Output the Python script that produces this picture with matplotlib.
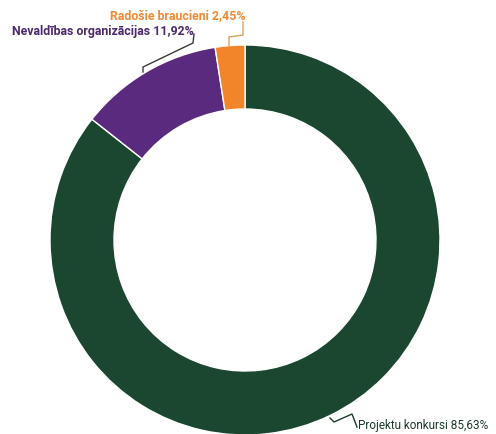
import matplotlib
matplotlib.use("Agg")
import matplotlib.pyplot as plt

# data (clockwise from 12 o'clock)
labels = ["Projektu konkursi", "Nevaldības organizācijas", "Radošie braucieni"]
shares = [85.63, 11.92, 2.45]
colors = ["#1b4730", "#5a2a7e", "#f2842a"]
text_colors = ["#1c3a2a", "#4e2a6e", "#f08a35"]

W, H = 496, 434
fig = plt.figure(figsize=(W / 100, H / 100), dpi=100)
ax = fig.add_axes([0, 0, 1, 1])

cx, cy, R = 245, 240, 195
ax.pie(shares, colors=colors, startangle=90, counterclock=False,
       radius=R, center=(cx, H - cy),
       wedgeprops=dict(width=64, edgecolor="white", linewidth=1))

ax.set_xlim(0, W)
ax.set_ylim(0, H)
ax.set_aspect("auto")
ax.axis("off")


def fmt(v):
    return f"{v:.2f}".replace(".", ",") + "%"


# leader lines (pixel coords, y from top)
leaders = [
    ([330, 334, 352, 357], [418, 422, 414, 427], text_colors[0]),
    ([143, 143, 193, 194], [72, 67, 43, 34], "#3a3a3a"),
    ([229, 229, 243, 243], [46, 37, 35, 22], "#e0a060"),
]
for xs, ys, c in leaders:
    ax.plot(xs, [H - y for y in ys], color=c, lw=1, solid_joinstyle="miter")

label_pos = [(358, 425, "normal", 8.5), (12, 32, "bold", 8.9), (110, 16, "bold", 8.9)]
for lab, v, tc, (x, y, w, fs) in zip(labels, shares, text_colors, label_pos):
    ax.text(x, H - y, f"{lab} {fmt(v)}", color=tc, fontsize=fs,
            fontfamily="Roboto", fontweight=w, ha="left", va="center")

fig.savefig("out.png", dpi=100)
